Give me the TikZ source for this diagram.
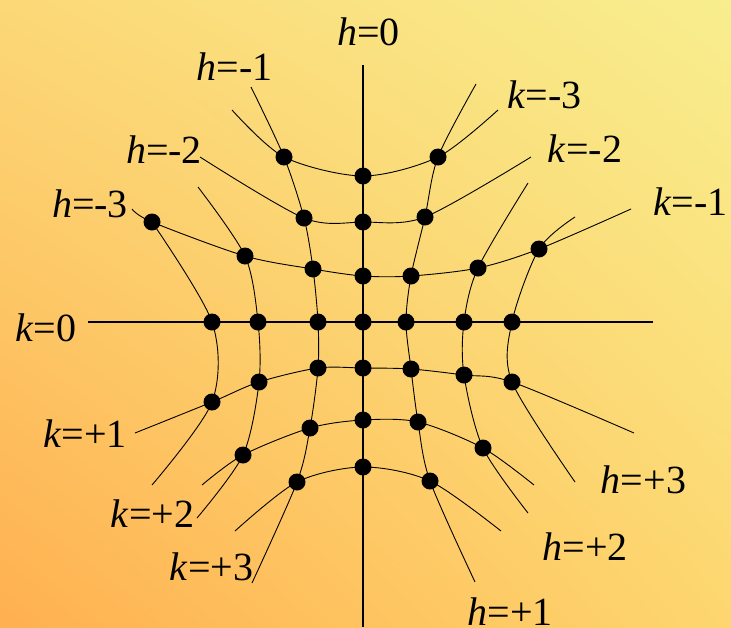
\documentclass[tikz,border=0pt]{standalone}
\usepackage{fontspec}
\setmainfont{Liberation Serif}
\usetikzlibrary{shadings}
\definecolor{bgUL}{HTML}{FCD877}
\definecolor{bgUR}{HTML}{F8EE8E}
\definecolor{bgLL}{HTML}{FFB050}
\definecolor{bgLR}{HTML}{FDD66F}
\tikzset{
  dot/.style={circle,fill=black,inner sep=0pt,minimum size=17pt},
  curve/.style={draw=black,line width=0.9pt},
  axis/.style={draw=black,line width=1.7pt},
  lab/.style={anchor=base,inner sep=0pt,font=\fontsize{40}{40}\selectfont}
}
\begin{document}
\begin{tikzpicture}[x=1pt,y=-1pt]
\shade[upper left=bgUL,upper right=bgUR,lower left=bgLL,lower right=bgLR] (0,0) rectangle (731,627);
\useasboundingbox (0,0) rectangle (731,627);
% tail end coordinates
\coordinate (hm1t) at (251,87);  \coordinate (hm1b) at (252,583);
\coordinate (hp1t) at (476,84);  \coordinate (hp1b) at (475,582);
\coordinate (hm2t) at (198,187); \coordinate (hm2b) at (197,518);
\coordinate (hp2t) at (528,183); \coordinate (hp2b) at (528,513);
\coordinate (hm3b) at (152,485);
\coordinate (hp3t) at (575,217); \coordinate (hp3b) at (575,482);
\coordinate (km3l) at (232,110); \coordinate (km3r) at (498,110);
\coordinate (km2l) at (200,157); \coordinate (km2r) at (531,157);
\coordinate (km1l) at (132,209); \coordinate (km1r) at (631,209);
\coordinate (kp1l) at (135,433); \coordinate (kp1r) at (634,433);
\coordinate (kp2l) at (202,485); \coordinate (kp2r) at (534,485);
\coordinate (kp3l) at (235,531); \coordinate (kp3r) at (501,531);
\coordinate (axL) at (88,322);   \coordinate (axR) at (653,322);
\coordinate (axT) at (363,65);   \coordinate (axB) at (363,627);
% dots
\foreach \n/\x/\y in {
  H0Km3/363/176, H0Km2/363/222, H0Km1/363/276, H0K0/363/322, H0Kp1/363/368, H0Kp2/363/420, H0Kp3/363/467,
  Hm1Km3/284/157, Hm1Km2/304/218, Hm1Km1/313/269, Hm1K0/318/322, Hm1Kp1/318/368, Hm1Kp2/310/428, Hm1Kp3/297/482,
  Hp1Km3/438/157, Hp1Km2/425/217, Hp1Km1/411/276, Hp1K0/406/322, Hp1Kp1/411/369, Hp1Kp2/418/422, Hp1Kp3/430/481,
  Hm2Km1/245/256, Hm2K0/258/322, Hm2Kp1/259/382, Hm2Kp2/243/455,
  Hp2Km1/478/268, Hp2K0/464/322, Hp2Kp1/464/375, Hp2Kp2/483/448,
  Hm3Km1/152/222, Hm3K0/212/322, Hm3Kp1/212/402,
  Hp3Km1/539/249, Hp3K0/512/322, Hp3Kp1/512/382}
  {\coordinate (\n) at (\x,\y);}
% axes
\draw[axis] (axL) -- (axR);
\draw[axis] (axT) -- (axB);
% h curves
\draw[curve] plot[smooth] coordinates {(hm1t) (Hm1Km3) (Hm1Km2) (Hm1Km1) (Hm1K0) (Hm1Kp1) (Hm1Kp2) (Hm1Kp3) (hm1b)};
\draw[curve] plot[smooth] coordinates {(hp1t) (Hp1Km3) (Hp1Km2) (Hp1Km1) (Hp1K0) (Hp1Kp1) (Hp1Kp2) (Hp1Kp3) (hp1b)};
\draw[curve] plot[smooth] coordinates {(hm2t) (Hm2Km1) (Hm2K0) (Hm2Kp1) (Hm2Kp2) (hm2b)};
\draw[curve] plot[smooth] coordinates {(hp2t) (Hp2Km1) (Hp2K0) (Hp2Kp1) (Hp2Kp2) (hp2b)};
\draw[curve] plot[smooth] coordinates {(Hm3Km1) (Hm3K0) (Hm3Kp1) (hm3b)};
\draw[curve] plot[smooth] coordinates {(hp3t) (Hp3Km1) (Hp3K0) (Hp3Kp1) (hp3b)};
% k curves
\draw[curve] plot[smooth] coordinates {(km3l) (Hm1Km3) (H0Km3) (Hp1Km3) (km3r)};
\draw[curve] plot[smooth] coordinates {(km2l) (Hm1Km2) (H0Km2) (Hp1Km2) (km2r)};
\draw[curve] plot[smooth] coordinates {(km1l) (Hm3Km1) (Hm2Km1) (Hm1Km1) (H0Km1) (Hp1Km1) (Hp2Km1) (Hp3Km1) (km1r)};
\draw[curve] plot[smooth] coordinates {(kp1l) (Hm3Kp1) (Hm2Kp1) (Hm1Kp1) (H0Kp1) (Hp1Kp1) (Hp2Kp1) (Hp3Kp1) (kp1r)};
\draw[curve] plot[smooth] coordinates {(kp2l) (Hm2Kp2) (Hm1Kp2) (H0Kp2) (Hp1Kp2) (Hp2Kp2) (kp2r)};
\draw[curve] plot[smooth] coordinates {(kp3l) (Hm1Kp3) (H0Kp3) (Hp1Kp3) (kp3r)};
% dot nodes
\foreach \n in {H0Km3,H0Km2,H0Km1,H0K0,H0Kp1,H0Kp2,H0Kp3,
  Hm1Km3,Hm1Km2,Hm1Km1,Hm1K0,Hm1Kp1,Hm1Kp2,Hm1Kp3,
  Hp1Km3,Hp1Km2,Hp1Km1,Hp1K0,Hp1Kp1,Hp1Kp2,Hp1Kp3,
  Hm2Km1,Hm2K0,Hm2Kp1,Hm2Kp2,Hp2Km1,Hp2K0,Hp2Kp1,Hp2Kp2,
  Hm3Km1,Hm3K0,Hm3Kp1,Hp3Km1,Hp3K0,Hp3Kp1}
  {\node[dot] (d\n) at (\n) {};}
% labels
\node[lab] (lh0)  at (368.5,45) {\textit{h}=0};
\node[lab] (lhm1) at (234.5,80) {\textit{h}=-1};
\node[lab] (lhm2) at (164,163) {\textit{h}=-2};
\node[lab] (lhm3) at (90,217) {\textit{h}=-3};
\node[lab] (lkm3) at (544.5,108) {\textit{k}=-3};
\node[lab] (lkm2) at (585,162) {\textit{k}=-2};
\node[lab] (lkm1) at (690.5,215) {\textit{k}=-1};
\node[lab] (lk0)  at (46,341) {\textit{k}=0};
\node[lab] (lkp1) at (85,447) {\textit{k}=+1};
\node[lab] (lkp2) at (152.5,527) {\textit{k}=+2};
\node[lab] (lkp3) at (211.5,580) {\textit{k}=+3};
\node[lab] (lhp3) at (643.5,493) {\textit{h}=+3};
\node[lab] (lhp2) at (585,560) {\textit{h}=+2};
\node[lab] (lhp1) at (510,625) {\textit{h}=+1};
\end{tikzpicture}
\end{document}
